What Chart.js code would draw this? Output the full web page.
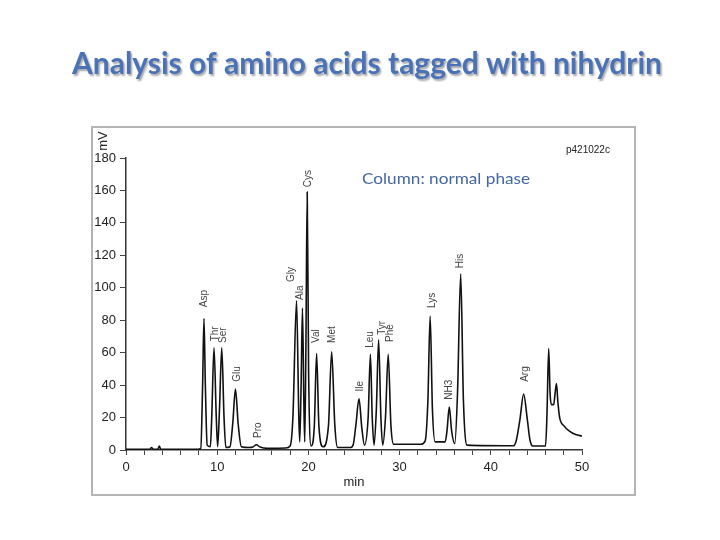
<!DOCTYPE html>
<html>
<head>
<meta charset="utf-8">
<script src="https://cdn.jsdelivr.net/npm/chart.js@4/dist/chart.umd.min.js"></script>
<style>
  body { margin: 0; background: #fff; }
  #chart { display: block; }
</style>
</head>
<body>
<canvas id="chart" width="720" height="540"></canvas>
<script>
// chromatogram: retention time (min) and signal (mV)
const times = [
    0, 2.6, 2.8, 3.0, 3.5, 3.65, 3.8, 7.9,
    8.2, 8.4, 8.55, 8.7, 8.9, 9.25,
    9.4, 9.65, 9.9, 10.05,
    10.25, 10.5, 10.75, 10.95,
    11.4, 11.7, 12.0, 12.3, 12.65, 13.5,
    13.9, 14.3, 14.7, 15.5, 17.5, 18.0,
    18.3, 18.7, 18.95, 19.05,
    19.2, 19.35, 19.5, 19.6,
    19.72, 19.87, 20.02, 20.3,
    20.65, 20.9, 21.15, 21.6,
    22.2, 22.55, 22.9, 23.2, 24.6,
    24.9, 25.2, 25.55, 25.85, 26.15,
    26.55, 26.8, 27.0, 27.2,
    27.45, 27.7, 27.95, 28.15,
    28.45, 28.75, 29.05, 29.35, 32.3, 32.8,
    33.1, 33.35, 33.6, 33.9, 35.0,
    35.2, 35.45, 35.7, 36.05,
    36.35, 36.7, 37.0, 37.4, 42.5,
    42.8, 43.2, 43.6, 44.0, 44.3, 44.6, 46.0,
    46.15, 46.35, 46.5, 46.65, 46.9,
    47.05, 47.2, 47.35, 47.55,
    48.0, 48.7, 49.3, 50.0
];
const signal = [
    0.5, 0.5, 1.5, 0.5, 0.5, 2.5, 0.5, 0.5,
    1, 40, 81, 40, 3, 2,
    20, 63, 20, 2,
    25, 63, 20, 1.5,
    2, 16, 37.5, 16, 2, 1.5,
    1.8, 3.2, 1.8, 1.0, 1.2, 2.5,
    20, 92, 20, 5,
    40, 87.5, 30, 5,
    60, 159, 50, 2.5,
    15, 59.5, 15, 2,
    15, 60.5, 15, 1.5, 1.5,
    3, 15, 31.5, 14, 3,
    20, 59, 20, 3,
    25, 68, 20, 3,
    20, 59, 15, 3.5, 3.5, 5.5,
    30, 82.5, 25, 5, 5,
    12, 26.5, 12, 4,
    35, 108.5, 30, 3, 2.6,
    6, 19, 34.5, 19, 6, 2.5, 2.5,
    20, 62.5, 35, 28, 28,
    35, 41, 30, 20,
    15, 11.3, 9.5, 8.6
];

// peak names and where their rotated labels sit (min, mV at the foot of the text)
const peakNames = ["Asp", "Thr", "Ser", "Glu", "Pro", "Gly", "Ala", "Cys", "Val", "Met",
                   "Ile", "Leu", "Tyr", "Phe", "Lys", "NH3", "His", "Arg"];
const peakLabelX = [8.55, 9.75, 10.7, 12.25, 14.45, 18.15, 19.1, 19.95, 20.9, 22.6,
                    25.65, 26.75, 28.05, 28.95, 33.55, 35.45, 36.65, 43.8];
const peakLabelY = [88, 67, 66, 42, 7.4, 103.6, 92.5, 162, 66, 66,
                    36, 63, 71, 66.6, 87.5, 31, 112, 42];

// axis ranges
const xMin = 0, xMax = 50, xStep = 2;
const yMin = 0, yMax = 180, yStep = 20;

const points = times.map((t, i) => ({ x: t, y: signal[i] }));

// frame, titles and peak labels
const decorations = {
    id: "decorations",
    beforeDraw(chart) {
        const c = chart.ctx;
        const area = chart.chartArea;
        c.save();
        c.strokeStyle = "#b4b4b4";
        c.lineWidth = 2;
        c.strokeRect(area.left - 34, area.top - 31, 543, 368);
        c.restore();
    },
    afterDraw(chart) {
        const c = chart.ctx;
        const area = chart.chartArea;
        const xs = chart.scales.x;
        const ys = chart.scales.y;
        c.save();

        // big title with a soft shadow
        c.font = "bold 30px Lato";
        const w = c.measureText("Analysis of amino acids tagged with nihydrin").width;
        c.save();
        c.translate(367, 74);
        c.scale(590 / w, 1);
        c.textAlign = "center";
        c.textBaseline = "alphabetic";
        c.shadowColor = "rgba(0,0,0,0.35)";
        c.shadowOffsetX = 1.5;
        c.shadowOffsetY = 1.5;
        c.shadowBlur = 2;
        c.fillStyle = "#4a72b8";
        c.fillText("Analysis of amino acids tagged with nihydrin", 0, 0);
        c.restore();

        // subtitle
        c.font = "15px Lato";
        const w2 = c.measureText("Column: normal phase").width;
        c.save();
        c.translate(446, 184);
        c.scale(168 / w2, 1);
        c.textAlign = "center";
        c.fillStyle = "#44679f";
        c.fillText("Column: normal phase", 0, 0);
        c.restore();

        // sample id
        c.font = "10px 'Liberation Sans'";
        c.fillStyle = "#222";
        c.textAlign = "left";
        c.textBaseline = "middle";
        c.fillText("p421022c", 566, 150);

        // unit of the y axis
        c.save();
        c.translate(area.left - 23, area.top - 17);
        c.rotate(-Math.PI / 2);
        c.font = "13px 'Liberation Sans'";
        c.fillStyle = "#222";
        c.textAlign = "center";
        c.textBaseline = "middle";
        c.fillText("mV", 0, 0);
        c.restore();

        // peak labels, rotated
        c.font = "10px 'Liberation Sans'";
        c.fillStyle = "#444";
        peakNames.forEach((name, i) => {
            c.save();
            c.translate(xs.getPixelForValue(peakLabelX[i]), ys.getPixelForValue(peakLabelY[i]));
            c.rotate(-Math.PI / 2);
            c.textAlign = "left";
            c.textBaseline = "middle";
            c.fillText(name, 0, 0);
            c.restore();
        });
        c.restore();
    }
};

const ctx = document.getElementById("chart");
const chart = new Chart(ctx, {
    type: "line",
    data: {
        datasets: [{
            data: points,
            borderColor: "#111",
            borderWidth: 1.6,
            pointRadius: 0,
            fill: false,
            cubicInterpolationMode: "monotone"
        }]
    },
    options: {
        responsive: false,
        animation: false,
        layout: { padding: { top: 158, right: 138, bottom: 48, left: 0 } },
        plugins: { legend: { display: false }, tooltip: { enabled: false } },
        scales: {
            x: {
                type: "linear",
                min: xMin,
                max: xMax,
                afterFit(s) { s.height = 42; },
                grid: { drawOnChartArea: false, drawTicks: true, tickLength: 5, color: "#444" },
                border: { color: "#333", width: 1.5 },
                ticks: {
                    stepSize: xStep,
                    autoSkip: false,
                    maxRotation: 0,
                    padding: 5,
                    color: "#222",
                    font: { family: "Liberation Sans", size: 13 },
                    callback: v => (v % 10 === 0 ? v : "")
                },
                title: {
                    display: true,
                    text: "min",
                    color: "#222",
                    font: { family: "Liberation Sans", size: 13 },
                    padding: { top: 2, bottom: 2 }
                }
            },
            y: {
                min: yMin,
                max: yMax,
                afterFit(s) { s.width = 126; },
                grid: { drawOnChartArea: false, drawTicks: true, tickLength: 6, color: "#444" },
                border: { color: "#333", width: 1.5 },
                ticks: {
                    stepSize: yStep,
                    padding: 4,
                    color: "#222",
                    font: { family: "Liberation Sans", size: 13 }
                }
            }
        }
    },
    plugins: [decorations]
});
</script>
</body>
</html>
